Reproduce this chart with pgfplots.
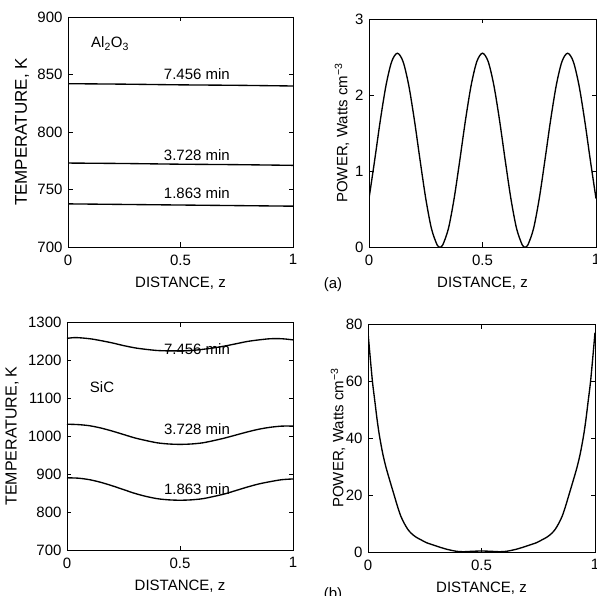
\documentclass[border=0pt]{standalone}
\usepackage{pgfplots}
\pgfplotsset{compat=1.18}
\usepackage{fontspec}
\setmainfont{Liberation Sans}

\pgfplotsset{
  panel/.style={
    scale only axis,
    anchor=south west,
    xmin=0, xmax=1,
    xtick={0,0.5,1},
    xticklabels={0,0.5,1},
    tick align=inside,
    major tick length=4.5pt,
    axis line style={line width=0.8pt},
    every tick/.style={black, line width=0.7pt},
    /pgf/number format/assume math mode=true,
    /pgf/number format/1000 sep={},
    tick label style={font=\fontsize{15}{17}\selectfont},
    xticklabel style={yshift=-4pt},
    yticklabel style={xshift=-2pt},
    xlabel={DISTANCE, z},
    every axis x label/.style={at={(axis description cs:0.5,0)}, yshift=-36pt, anchor=center, font=\fontsize{15}{17}\selectfont},
  },
  curve/.style={black, line width=1.35pt, smooth, no markers},
}
\tikzset{note/.style={font=\fontsize{15}{17}\selectfont, inner sep=0pt}}

\begin{document}
\begin{tikzpicture}
\useasboundingbox (0,0) rectangle (597pt,595pt);

% (a) Al2O3 temperature
\begin{axis}[panel,
  at={(68pt,348pt)}, width=225pt, height=230pt,
  ymin=700, ymax=900, ytick={700,750,...,900},
  ylabel={TEMPERATURE, K},
  every axis y label/.style={at={(axis description cs:-0.204,0.5)}, rotate=90, anchor=center, font=\fontsize{17}{19}\selectfont},
]
\addplot [curve] coordinates {(0,842) (0.25,841.6) (0.5,841) (0.75,840.6) (1,840)};
\addplot [curve] coordinates {(0,773) (0.25,772.6) (0.5,772) (0.75,771.6) (1,771)};
\addplot [curve] coordinates {(0,737.5) (0.25,737) (0.5,736.5) (0.75,736) (1,735.5)};
\node[note] at (axis cs:0.573,850) {7.456 min};
\node[note] at (axis cs:0.573,780) {3.728 min};
\node[note] at (axis cs:0.573,747) {1.863 min};
\node[note] at (axis cs:0.187,877) {Al\textsubscript{2}O\textsubscript{3}};
\end{axis}

% (a) Al2O3 power
\begin{axis}[panel,
  at={(369pt,348pt)}, width=227pt, height=228pt,
  ymin=0, ymax=3, ytick={0,1,2,3},
  ylabel={POWER, Watts cm\textsuperscript{−3}},
  every axis y label/.style={at={(axis description cs:-0.119,0.5)}, rotate=90, anchor=center, font=\fontsize{15}{17}\selectfont},
]
\addplot [curve] coordinates {
(0,0.638) (0.025,1.142) (0.05,1.669) (0.075,2.128) (0.1,2.440) (0.125,2.55)
(0.15,2.440) (0.175,2.128) (0.2,1.669) (0.225,1.142) (0.25,0.638) (0.275,0.244)
(0.3,0.028) (0.3125,0) (0.325,0.028) (0.35,0.244) (0.375,0.638) (0.4,1.142)
(0.425,1.669) (0.45,2.128) (0.475,2.440) (0.5,2.55) (0.525,2.440) (0.55,2.128)
(0.575,1.669) (0.6,1.142) (0.625,0.638) (0.65,0.244) (0.675,0.028) (0.6875,0)
(0.7,0.028) (0.725,0.244) (0.75,0.638) (0.775,1.142) (0.8,1.669) (0.825,2.128)
(0.85,2.440) (0.875,2.55) (0.9,2.440) (0.925,2.128) (0.95,1.669) (0.975,1.142)
(1,0.638)};
\end{axis}

% (b) SiC temperature
\begin{axis}[panel,
  at={(67pt,45pt)}, width=226pt, height=228pt,
  ymin=700, ymax=1300, ytick={700,800,...,1300},
  ylabel={TEMPERATURE, K},
  every axis y label/.style={at={(axis description cs:-0.243,0.5)}, rotate=90, anchor=center, font=\fontsize{16}{18}\selectfont},
]
\addplot [curve] coordinates {
(0,1257) (0.04,1259) (0.1,1256) (0.15,1251) (0.2,1245) (0.25,1238) (0.3,1232)
(0.35,1228) (0.4,1225) (0.45,1224) (0.5,1224) (0.55,1225) (0.6,1228) (0.65,1232)
(0.7,1237) (0.75,1243) (0.8,1249) (0.85,1253) (0.9,1256) (0.95,1256) (1,1253)};
\addplot [curve] coordinates {
(0,1031) (0.05,1030) (0.1,1027) (0.15,1021) (0.2,1013) (0.25,1004) (0.3,995)
(0.35,988) (0.4,982) (0.45,979) (0.5,978) (0.55,979) (0.6,982) (0.65,988)
(0.7,995) (0.75,1003) (0.8,1011) (0.85,1018) (0.9,1023) (0.95,1026) (1,1026)};
\addplot [curve] coordinates {
(0,890) (0.05,889) (0.1,885) (0.15,878) (0.2,869) (0.25,859) (0.3,849)
(0.35,841) (0.4,835) (0.45,832) (0.5,831) (0.55,832) (0.6,835) (0.65,841)
(0.7,848) (0.75,857) (0.8,866) (0.85,874) (0.9,880) (0.95,885) (1,887)};
\node[note] at (axis cs:0.575,1229) {7.456 min};
\node[note] at (axis cs:0.575,1018) {3.728 min};
\node[note] at (axis cs:0.575,859) {1.863 min};
\node[note] at (axis cs:0.155,1129) {SiC};
\end{axis}

% (b) SiC power
\begin{axis}[panel,
  at={(368pt,43pt)}, width=227pt, height=228pt,
  ymin=0, ymax=80, ytick={0,20,...,80},
  ylabel={POWER, Watts cm\textsuperscript{−3}},
  every axis y label/.style={at={(axis description cs:-0.132,0.5)}, rotate=90, anchor=center, font=\fontsize{15}{17}\selectfont},
]
\addplot [curve] coordinates {
(0,77) (0.01,68) (0.02,59.5) (0.03,53) (0.04,46.5) (0.05,41) (0.065,34.5)
(0.08,29.5) (0.1,24) (0.115,20) (0.13,16) (0.145,12.5) (0.16,10) (0.175,8)
(0.19,6.6) (0.21,5.3) (0.235,4.2) (0.26,3.2) (0.29,2.4) (0.32,1.6) (0.35,0.9)
(0.39,0.25) (0.42,0.1) (0.46,0.25) (0.5,0.35) (0.54,0.25) (0.58,0.1) (0.61,0.25)
(0.65,0.9) (0.68,1.6) (0.71,2.4) (0.74,3.2) (0.765,4.2) (0.79,5.3) (0.81,6.6)
(0.825,8) (0.84,10) (0.855,12.5) (0.87,16) (0.885,20) (0.9,24) (0.92,29.5)
(0.935,34.5) (0.95,41) (0.96,46.5) (0.97,53) (0.98,59.5) (0.99,68) (1,77)};
\end{axis}

\node[font=\fontsize{15}{17}\selectfont] at (333pt,310pt) {(a)};
\node[font=\fontsize{15}{17}\selectfont] at (333pt,0pt) {(b)};
\end{tikzpicture}
\end{document}
